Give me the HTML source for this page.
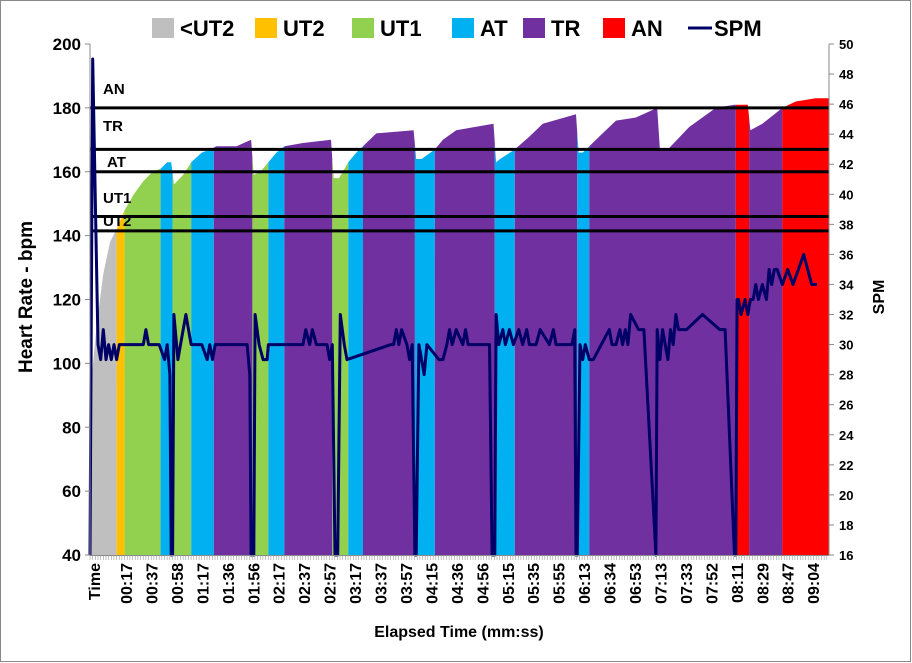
<!DOCTYPE html>
<html><head><meta charset="utf-8"><style>
body{margin:0;background:#fff;}
svg{display:block;font-family:"Liberation Sans Narrow","Liberation Sans",sans-serif;font-weight:bold;}
</style></head><body>
<svg id="chart" width="912" height="663" viewBox="0 0 912 663" xmlns="http://www.w3.org/2000/svg">
<rect x="0.5" y="0.5" width="910" height="661" fill="#fff" stroke="#888"/>
<g id="areas"></g>
<g id="thresholds"></g>
<g id="spm"></g>
<g id="axes"></g>
<g id="legend"></g>
</svg>
<script>
const zoneNames=["<UT2","UT2","UT1","AT","TR","AN"];
const zoneColors=["#bfbfbf","#ffc000","#92d050","#00b0f0","#7030a0","#ff0000"];
// zone segments: [startSec, endSec, zoneIndex]
const zoneSegments=[[0,20,0],[20,26,1],[26,53,2],[53,62,3],[62,76,2],[76,93,3],[93,122,4],[122,134,2],[134,146,3],[146,182,4],[182,194,2],[194,205,3],[205,244,4],[244,259,3],[259,304,4],[304,319,3],[319,366,4],[366,375,3],[375,485,4],[485,495,5],[495,520,4],[520,555,5]];
const hrTimes=[0,5,10,15,20,26,33,40,47,53,58,61,63,70,76,84,90,95,110,121,123,128,134,140,146,160,181,183,187,194,200,205,215,243,245,249,259,265,275,303,305,308,319,330,340,365,367,370,375,385,395,410,426,428,434,450,470,484,494,496,505,520,530,545,555];
const hrValues=[90,112,128,138,142,148,153,157,160,161,163,163,156,159,163,166,167,168,168,170,159,160,163,166,168,169,170,158,158,163,166,168,172,173,164,164,167,170,173,175,163,164,167,171,175,178,166,166,168,172,176,177,180,167,167,174,180,181,181,173,175,180,182,183,183];
const thrNames=["AN","TR","AT","UT1","UT2"];
const thrValues=[180,167,160,146,141.5];
const spmTimes=[0,2,6,8,10,12,14,16,18,20,22,40,42,44,52,56,58,60,61,62,63,66,68,72,74,76,84,88,90,92,94,118,120,121,123,124,127,130,133,134,160,162,165,167,170,178,180,182,184,186,188,191,193,226,228,230,232,234,238,240,242,244,245,247,249,251,253,262,265,268,270,272,275,280,282,284,300,302,304,305,307,310,312,315,318,322,325,328,330,335,338,345,348,350,362,364,365,366,368,370,372,375,378,390,392,395,398,400,402,404,406,412,414,416,425,426,427,428,430,432,434,436,438,440,442,444,446,448,460,473,475,477,484,485,486,487,489,492,494,496,498,500,502,505,508,510,512,514,516,520,524,528,532,536,539,542,544,546,550,555];
const spmValues=[16,49,30,29,31,29,30,29,30,29,30,30,31,30,30,29,30,28,16,16,32,29,30,32,31,30,30,29,30,29,30,30,28,16,16,32,30,29,29,30,30,31,30,31,30,30,29,30,16,16,32,30,29,30,30,31,30,31,30,29,30,16,16,30,29,28,30,29,29,30,31,30,31,30,31,30,30,16,16,32,30,31,30,31,30,31,30,31,30,30,31,30,31,30,30,31,16,16,30,29,30,29,29,31,30,30,31,30,31,30,32,31,31,31,16,31,30,29,31,30,29,31,30,32,31,31,31,31,32,31,31,31,16,16,33,33,32,33,32,33,33,34,33,34,33,35,34,35,35,34,35,34,35,36,35,34,34,34];
const xLabels=["Time","00:17","00:37","00:58","01:17","01:36","01:56","02:17","02:37","02:57","03:17","03:37","03:57","04:15","04:36","04:56","05:15","05:35","05:55","06:13","06:34","06:53","07:13","07:33","07:52","08:11","08:29","08:47","09:04"];
const yTicks=[40,60,80,100,120,140,160,180,200];
const y2Ticks=[16,18,20,22,24,26,28,30,32,34,36,38,40,42,44,46,48,50];

const NS="http://www.w3.org/2000/svg";
const X0=90,X1=829,Y0=555,Y1=44,TMAX=555;
const xS=t=>X0+t*(X1-X0)/TMAX;
const yS=v=>Y0-(v-40)*(Y0-Y1)/160;
const y2S=v=>Y0-(v-16)*(Y0-Y1)/34;
function mk(tag,at,parent,txt){const e=document.createElementNS(NS,tag);for(const k in at)e.setAttribute(k,at[k]);if(txt!==undefined)e.textContent=txt;parent.appendChild(e);return e;}
function hrAt(t){for(let i=1;i<hrTimes.length;i++){if(t<=hrTimes[i]){const a=hrTimes[i-1],b=hrTimes[i];return hrValues[i-1]+(hrValues[i]-hrValues[i-1])*(t-a)/(b-a);}}return hrValues[hrValues.length-1];}

const areas=document.getElementById('areas');
zoneSegments.forEach(s=>{
  let pts=[[s[0],hrAt(s[0])]];
  hrTimes.forEach((t,i)=>{if(t>s[0]&&t<s[1])pts.push([t,hrValues[i]]);});
  pts.push([s[1],hrAt(s[1])]);
  let d=`M${xS(s[0])},${Y0} `+pts.map(p=>`L${xS(p[0]).toFixed(1)},${yS(p[1]).toFixed(1)}`).join(' ')+` L${xS(s[1])},${Y0} Z`;
  const p=mk('path',{d:d,fill:zoneColors[s[2]]},areas);
  
  
});

const thr=document.getElementById('thresholds');
thrValues.forEach((v,i)=>{
  const l=mk('line',{x1:X0,x2:X1,y1:yS(v),y2:yS(v),stroke:'#000','stroke-width':3},thr);
  
  
});
const thrLabelY=[94,131,167,203,226];
thrNames.forEach((n,i)=>{
  const t=mk('text',{x:103+(i==2?4:0),y:thrLabelY[i],'font-size':15,fill:'#000'},thr,n);
  
  
});

const spm=document.getElementById('spm');
const sl=mk('polyline',{points:spmTimes.map((t,i)=>`${xS(t).toFixed(1)},${y2S(spmValues[i]).toFixed(1)}`).join(' '),fill:'none',stroke:'#000066','stroke-width':3,'stroke-linejoin':'round'},spm);



const ax=document.getElementById('axes');
mk('line',{x1:X0,x2:X0,y1:Y1,y2:Y0,stroke:'#888'},ax);
mk('line',{x1:X1,x2:X1,y1:Y1,y2:Y0,stroke:'#888'},ax);
mk('line',{x1:X0,x2:X1,y1:Y0+0.5,y2:Y0+0.5,stroke:'#888'},ax);
for(let x=X0;x<=X1;x+=2.66)mk('line',{x1:x,x2:x,y1:Y0,y2:Y0+5,stroke:'#999','stroke-width':0.6},ax);
yTicks.forEach(v=>{
  mk('line',{x1:X0-5,x2:X0,y1:yS(v),y2:yS(v),stroke:'#888'},ax);
  const t=mk('text',{x:X0-9,y:yS(v)+6,'text-anchor':'end','font-size':17},ax,v);
  
  
});
y2Ticks.forEach(v=>{
  mk('line',{x1:X1,x2:X1+5,y1:y2S(v),y2:y2S(v),stroke:'#888'},ax);
  const t=mk('text',{x:X1+10,y:y2S(v)+5,'font-size':13},ax,v);
  
  
});
xLabels.forEach((s,i)=>{
  const x=(i==0?94:126+(i-1)*25.45)+6;
  const t=mk('text',{x:0,y:0,transform:`translate(${x},563) rotate(-90)`,'text-anchor':'end','font-size':16},ax,s);
  
  
});
const xt=mk('text',{x:459,y:637,'text-anchor':'middle','font-size':16},ax,'Elapsed Time (mm:ss)');

const yt=mk('text',{x:0,y:0,transform:'translate(32,297) rotate(-90)','text-anchor':'middle','font-size':19},ax,'Heart Rate - bpm');

const y2t=mk('text',{x:0,y:0,transform:'translate(884,297) rotate(-90)','text-anchor':'middle','font-size':16},ax,'SPM');


const lg=document.getElementById('legend');
const lgX=[152,255,352,452,523,603];
zoneNames.forEach((n,i)=>{
  const g=mk('g',{},lg);
  
  
  mk('rect',{x:lgX[i],y:18,width:22,height:20,fill:zoneColors[i]},g);
  mk('text',{x:lgX[i]+28,y:36,'font-size':22},g,n);
});
const g=mk('g',{},lg);


mk('line',{x1:688,x2:712,y1:28,y2:28,stroke:'#000066','stroke-width':3},g);
mk('text',{x:714,y:36,'font-size':22},g,'SPM');
</script>
</body></html>
